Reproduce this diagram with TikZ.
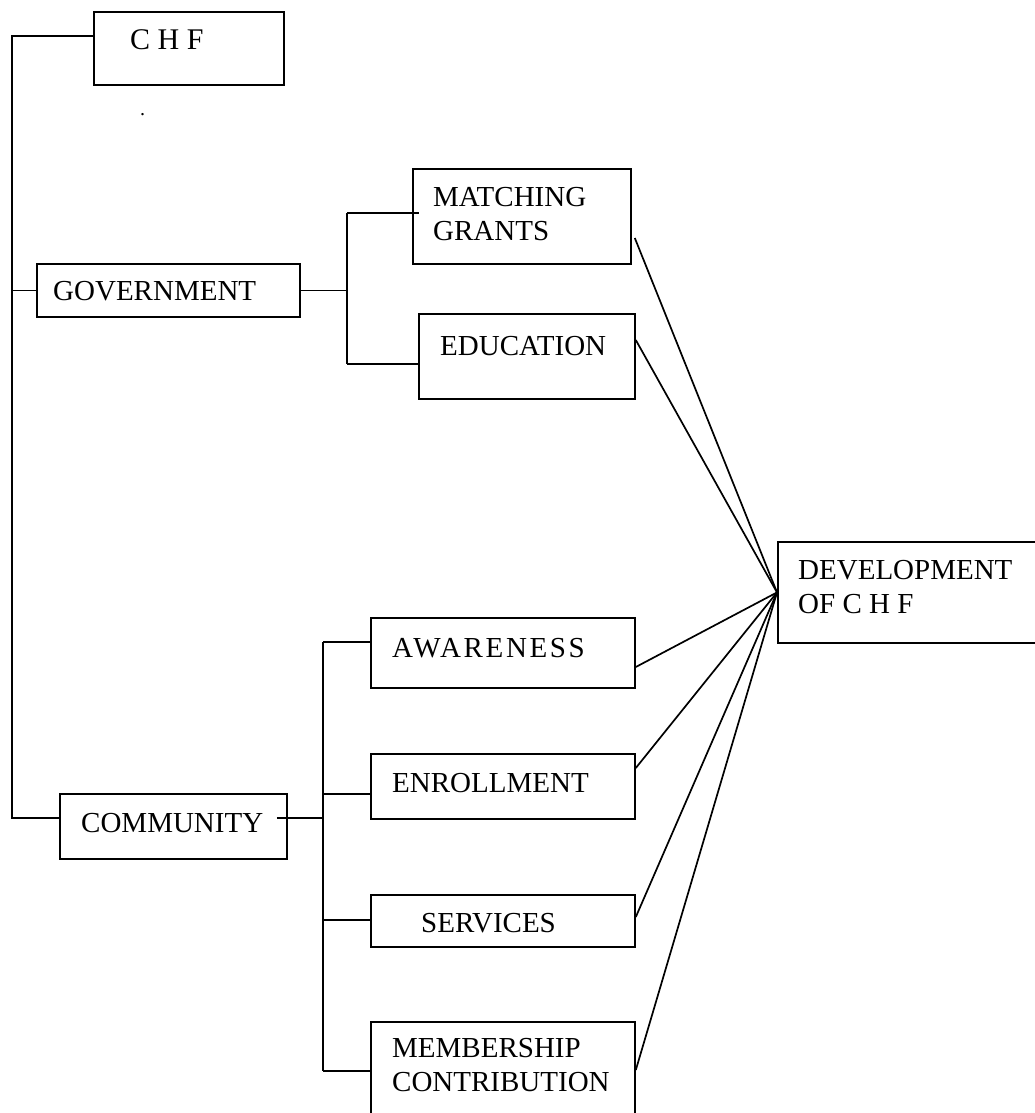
\documentclass[tikz,border=0pt]{standalone}
\usepackage{fontspec}
\setmainfont{Liberation Serif}
\newfontfamily\spacedfont[LetterSpace=9]{Liberation Serif}
\usetikzlibrary{calc}
\begin{document}
\begin{tikzpicture}[x=1pt,y=-1pt,
  box/.style={draw, line width=1.8pt, inner sep=0pt, anchor=north west},
  lbl/.style={anchor=base west, inner sep=0pt, font=\fontsize{29}{34}\selectfont},
  con/.style={line width=1.7pt}]
\useasboundingbox (0,0) rectangle (1035,1113);
\fill[white] (0,0) rectangle (1035,1113);

% boxes
\node[box, minimum width=190pt, minimum height=73pt]  (chf) at (93,11) {};
\node[box, minimum width=263pt, minimum height=53pt]  (gov) at (36,263) {};
\node[box, minimum width=218pt, minimum height=95pt]  (mg)  at (412,168) {};
\node[box, minimum width=216pt, minimum height=85pt]  (edu) at (418,313) {};
\node[box, minimum width=268pt, minimum height=101pt] (dev) at (777,541) {};
\node[box, minimum width=227pt, minimum height=65pt]  (com) at (59,793) {};
\node[box, minimum width=264pt, minimum height=70pt]  (aw)  at (370,617) {};
\node[box, minimum width=264pt, minimum height=65pt]  (en)  at (370,753) {};
\node[box, minimum width=264pt, minimum height=52pt]  (sv)  at (370,894) {};
\node[box, minimum width=264pt, minimum height=109pt] (mb)  at (370,1021) {};

% texts
\node[lbl, font=\fontsize{30}{34}\selectfont] (tchf) at (130,50) {C H F};
\node[lbl, font=\fontsize{20}{24}\selectfont] (tdot) at (140,116) {.};
\node[lbl] (tgov) at (53,300) {GOVERNMENT};
\node[lbl] (tmg1) at (433,206) {MATCHING};
\node[lbl] (tmg2) at (433,240) {GRANTS};
\node[lbl] (tedu) at (440,355) {EDUCATION};
\node[lbl] (tdev1) at (798,579) {DEVELOPMENT};
\node[lbl] (tdev2) at (798,613) {OF C H F};
\node[lbl, font=\fontsize{29}{34}\spacedfont] (taw) at (392,657) {AWARENESS};
\node[lbl] (ten) at (392,792) {ENROLLMENT};
\node[lbl] (tcom) at (81,832) {COMMUNITY};
\node[lbl] (tsv) at (421,932) {SERVICES};
\node[lbl] (tmb1) at (392,1057) {MEMBERSHIP};
\node[lbl] (tmb2) at (392,1091) {CONTRIBUTION};

% junction coordinates
\coordinate (ttop) at (12,36);
\coordinate (tbot) at (12,818);
\coordinate (gj) at (347,289);
\coordinate (gtop) at (347,213);
\coordinate (gbot) at (347,364);
\coordinate (cj) at (323,818);
\coordinate (ctop) at (323,642);
\coordinate (cbot) at (323,1071);

% left trunk
\draw[con] ($(chf.north west)+(0,25)$) -- (ttop) -- (tbot) -- (com.west |- tbot);
\draw[con] (ttop |- gov.west) -- (gov.west);

% government branch
\draw[con] (gov.east) -- (gov.east -| gj);
\draw[con] (gtop) -- (gbot);
\draw[con] (gtop) -- ($(mg.north west)+(7,45)$);
\draw[con] (gbot) -- ($(edu.north west)+(0,51)$);

% community branch
\draw[con] ($(com.north east)+(-11,25)$) -- (cj);
\draw[con] (ctop) -- (cbot);
\draw[con] (ctop) -- ($(aw.north west)+(0,25)$);
\draw[con] (ctop |- en.north west) ++(0,41) -- ($(en.north west)+(0,41)$);
\draw[con] (ctop |- sv.north west) ++(0,26) -- ($(sv.north west)+(0,26)$);
\draw[con] (cbot) -- ($(mb.north west)+(0,50)$);

% fan into development
\draw[con] ($(mg.north east)+(3,70)$)  -- (dev.west);
\draw[con] ($(edu.north east)+(0,27)$) -- (dev.west);
\draw[con] ($(aw.north east)+(0,50)$)  -- (dev.west);
\draw[con] ($(en.north east)+(0,15)$)  -- (dev.west);
\draw[con] ($(sv.north east)+(0,23)$)  -- (dev.west);
\draw[con] ($(mb.north east)+(0,49)$)  -- (dev.west);
\end{tikzpicture}
\end{document}
